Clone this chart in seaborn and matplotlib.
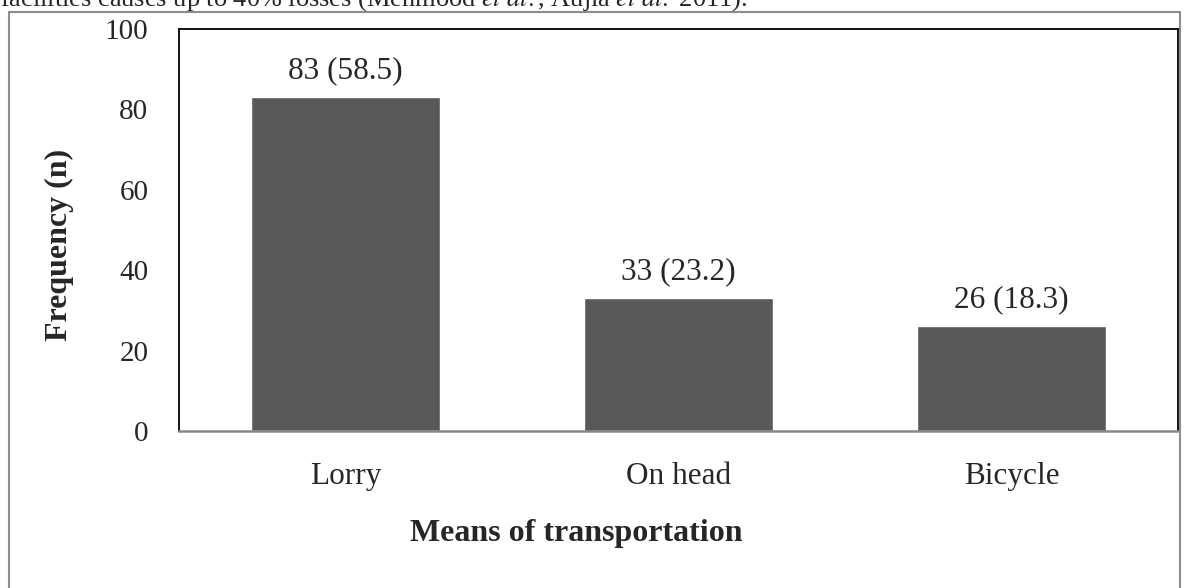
import matplotlib
matplotlib.use("Agg")
import matplotlib.pyplot as plt
import seaborn as sns
import pandas as pd
from matplotlib.patches import Rectangle

# data
modes = ['Lorry', 'On head', 'Bicycle']
counts = [83, 33, 26]
percents = [58.5, 23.2, 18.3]
y_ticks = [0, 20, 40, 60, 80, 100]

df = pd.DataFrame({'Mode': modes, 'Count': counts})

sns.set_style('white')
plt.rcParams['font.family'] = ['Liberation Serif', 'DejaVu Serif']
plt.rcParams['mathtext.fontset'] = 'stix'

fig = plt.figure(figsize=(11.93, 5.88), dpi=100)
ax = fig.add_axes([179 / 1193, 1 - 431 / 588, 999 / 1193, 402 / 588])

sns.barplot(data=df, x='Mode', y='Count', color='#595959', width=0.57,
            saturation=1, ax=ax)

ax.set_ylim(0, 100)
ax.set_xlim(-0.5, 2.5)
ax.set_yticks(y_ticks)
ax.tick_params(axis='y', labelsize=21, pad=22, length=0)
ax.tick_params(axis='x', labelsize=22.5, pad=22, length=0)
ax.set_xlabel('')
ax.set_ylabel('')

for side in ['left', 'top', 'right']:
    ax.spines[side].set_color('black')
    ax.spines[side].set_linewidth(1.3)
ax.spines['bottom'].set_color('#888888')
ax.spines['bottom'].set_linewidth(1.8)

for i, (c, p) in enumerate(zip(counts, percents)):
    ax.annotate(f'{c} ({p})', xy=(i, c), xytext=(0, 14), textcoords='offset points',
                ha='center', va='baseline', fontsize=22.5)

fig.text(59 / 1193, 1 - 245 / 588, 'Frequency (n)', rotation=90, ha='center', va='center',
         fontsize=23, fontweight='bold')
fig.text(576 / 1193, 1 - 541 / 588, 'Means of transportation', ha='center', va='baseline',
         fontsize=23, fontweight='bold')

# cut-off line of body text above the figure
fig.text(0, 1 - 6 / 588,
         'facilities causes up to 40% losses (Mehmood $\\it{et\\ al.}$, Aujla $\\it{et\\ al.}$ 2011).',
         ha='left', va='baseline', fontsize=19)

# outer chart border
fig.patches.append(Rectangle((9 / 1193, -0.05), 1171 / 1193, 1.05 - 12 / 588,
                             transform=fig.transFigure, fill=False,
                             edgecolor='#8c8c8c', linewidth=1.5))

fig.savefig('out.png', dpi=100)
